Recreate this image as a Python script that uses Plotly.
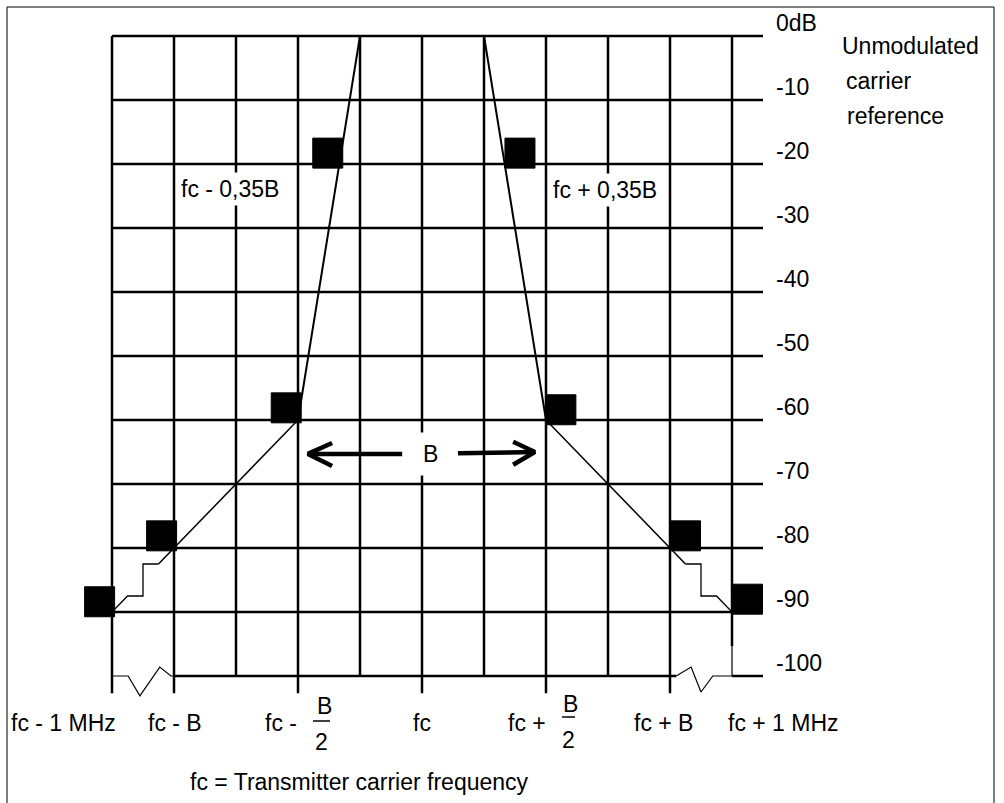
import plotly.graph_objects as go

# ---------------- data ----------------
# frequency axis in units of B/4 relative to fc (fc = 0); dB relative to unmodulated carrier
freq_grid = [-5, -4, -3, -2, -1, 0, 1, 2, 3, 4, 5]
freq_long = [-5, -4, -2, 0, 2, 4]          # grid lines that carry a label (extend below)
db_grid = [0, -10, -20, -30, -40, -50, -60, -70, -80, -90, -100]
db_labels = ["0dB", "-10", "-20", "-30", "-40", "-50", "-60", "-70", "-80", "-90", "-100"]

# spectrum mask (left / right)
mask_left_x = [-1, -2]
mask_left_db = [0, -60]
slope_left_x = [-2, -4, -4.25]
slope_left_db = [-60, -80, -82.5]
stair_left_x = [-4.25, -4.5, -4.5, -4.75, -5]
stair_left_db = [-82.5, -82.5, -87.5, -87.5, -90]

mask_right_x = [1, 2]
mask_right_db = [0, -60]
slope_right_x = [2, 4, 4.25]
slope_right_db = [-60, -80, -82.5]
stair_right_x = [4.25, 4.5, 4.5, 4.75, 5]
stair_right_db = [-82.5, -82.5, -87.5, -87.5, -90]

# limit points (black squares)
limit_x = [-5.2, -4.2, -2.19, -1.52, 1.58, 2.24, 4.25, 5.25]
limit_db = [-88.4, -78.1, -58.1, -18.3, -18.3, -58.4, -78.1, -88.0]

# axis breaks (zig-zag)
break_left_x = [-5, -4.74, -4.55, -4.23, -4.05, -4]
break_left_db = [-100, -100, -103.1, -98.6, -100, -100]
break_right_x = [4.1, 4.34, 4.5, 4.69, 5, 5]
break_right_db = [-100, -98.6, -102.5, -100, -100, -95.3]

# bandwidth arrows
arrow_left_x = [-0.32, -1.84]
arrow_left_db = [-65.3, -65.3]
arrowhead_left_x = [-1.45, -1.84, -1.45]
arrowhead_left_db = [-63.6, -65.3, -67.2]
arrow_right_x = [0.58, 1.82]
arrow_right_db = [-65.2, -65.0]
arrowhead_right_x = [1.47, 1.82, 1.47]
arrowhead_right_db = [-63.4, -65.0, -67.0]

# ---------------- geometry helpers ----------------
W, H = 1004, 803
X0_PX, COL_PX = 422, 62
Y0_PX, DB_PX = 36, 6.4


def px_x(p):
    return (p - X0_PX) / COL_PX


def px_y(p):
    return (Y0_PX - p) / DB_PX


FONT = dict(family="Liberation Sans, Arial, sans-serif", size=23, color="black")

fig = go.Figure()


def add_line(xs, ys, width, color="black"):
    fig.add_trace(go.Scatter(x=xs, y=ys, mode="lines",
                             line=dict(color=color, width=width),
                             hoverinfo="skip", showlegend=False, cliponaxis=False))


# grid: vertical lines
gx, gy = [], []
for f in freq_grid:
    if f == 5:
        gx += [f, f, None]
        gy += [0, -95.3, None]
    else:
        bottom = -102.7 if f in freq_long else -100
        gx += [f, f, None]
        gy += [0, bottom, None]
# grid: horizontal lines
x_right_end = px_x(763)
for d in db_grid:
    if d == -100:
        gx += [-4, 4.1, None, 5, x_right_end, None]
        gy += [d, d, None, d, d, None]
    else:
        gx += [-5, x_right_end, None]
        gy += [d, d, None]
add_line(gx, gy, 2.5)

# axis breaks
add_line(break_left_x, break_left_db, 1.2)
add_line(break_right_x, break_right_db, 1.2)

# mask
add_line(mask_left_x, mask_left_db, 2)
add_line(mask_right_x, mask_right_db, 2)
add_line(slope_left_x, slope_left_db, 1.5)
add_line(slope_right_x, slope_right_db, 1.5)
add_line(stair_left_x, stair_left_db, 1.3)
add_line(stair_right_x, stair_right_db, 1.3)

# limit markers
fig.add_trace(go.Scatter(x=limit_x, y=limit_db, mode="markers",
                         marker=dict(symbol="square", size=30, color="black",
                                     line=dict(color="black", width=1)),
                         hoverinfo="skip", showlegend=False, cliponaxis=False))

# arrows
for xs, ys in [(arrow_left_x, arrow_left_db), (arrowhead_left_x, arrowhead_left_db),
               (arrow_right_x, arrow_right_db), (arrowhead_right_x, arrowhead_right_db)]:
    add_line(xs, ys, 4.5)

ann = []


def text(t, x, y, xanchor="center", bg=None, pad=1):
    d = dict(x=x, y=y, text=t, showarrow=False, xanchor=xanchor, yanchor="middle",
             font=FONT, xref="x", yref="y", borderpad=pad)
    if bg:
        d["bgcolor"] = bg
    ann.append(d)


# right-hand dB labels
for d, lab in zip(db_grid, db_labels):
    text(lab, px_x(774), d + 2.0, xanchor="left")

text("Unmodulated", px_x(840), px_y(46), xanchor="left")
text("carrier", px_x(844), px_y(81), xanchor="left")
text("reference", px_x(845), px_y(116), xanchor="left")

# frequency labels
y_lab = px_y(723)
text("fc - 1 MHz", px_x(63), y_lab)
text("fc - B", px_x(175), y_lab)
text("fc -", px_x(281), y_lab)
text("B", px_x(324), px_y(706))
text("2", px_x(321), px_y(742))
text("fc", px_x(422), y_lab)
text("fc +", px_x(527), y_lab)
text("B", px_x(570), px_y(704))
text("2", px_x(568), px_y(740))
text("fc + B", px_x(663), y_lab)
text("fc + 1 MHz", px_x(783), y_lab)
text("fc = Transmitter carrier frequency", px_x(359), px_y(782))

# in-plot labels
text("fc - 0,35B", px_x(230), px_y(189), bg="white", pad=3)
text("fc + 0,35B", px_x(605), px_y(190), bg="white", pad=3)
text("B", px_x(430), px_y(454), bg="white", pad=8)

shapes = [
    # fraction bars
    dict(type="line", xref="x", yref="y", x0=px_x(313), x1=px_x(330), y0=px_y(721), y1=px_y(721),
         line=dict(color="black", width=1.5)),
    dict(type="line", xref="x", yref="y", x0=px_x(562), x1=px_x(575), y0=px_y(717), y1=px_y(717),
         line=dict(color="black", width=1.5)),
    # outer frame
    dict(type="path", xref="x", yref="y",
         path=f"M {px_x(7)},{px_y(803)} L {px_x(7)},{px_y(7)} L {px_x(994)},{px_y(7)} L {px_x(994)},{px_y(803)}",
         line=dict(color="black", width=1)),
]

fig.update_layout(
    width=W, height=H,
    margin=dict(l=0, r=0, t=0, b=0),
    paper_bgcolor="white", plot_bgcolor="white",
    xaxis=dict(range=[px_x(0), px_x(W)], visible=False, fixedrange=True),
    yaxis=dict(range=[px_y(H), px_y(0)], visible=False, fixedrange=True),
    annotations=ann, shapes=shapes, showlegend=False,
)

fig.write_html("out.html", config={"displayModeBar": False},
               post_script="document.body.style.margin='0';document.body.style.overflow='hidden';")
